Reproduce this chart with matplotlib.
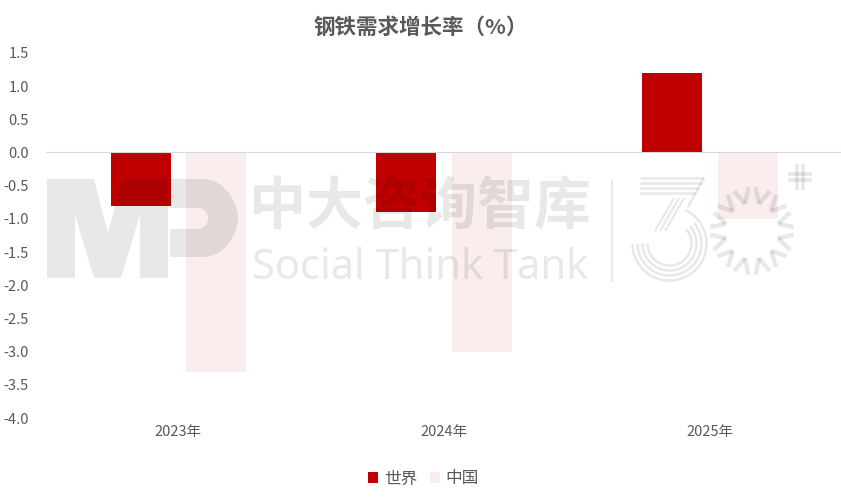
import numpy as np
import matplotlib
matplotlib.use('Agg')
import matplotlib.pyplot as plt
from matplotlib.path import Path
from matplotlib.patches import PathPatch

plt.rcParams['font.family'] = ['Noto Sans CJK SC', 'DejaVu Sans']

years = ['2023年', '2024年', '2025年']
world = [-0.8, -0.9, 1.2]
china = [-3.3, -3.0, -1.0]
yticks = [1.5, 1.0, 0.5, 0.0, -0.5, -1.0, -1.5, -2.0, -2.5, -3.0, -3.5, -4.0]

W, H = 841, 500
fig = plt.figure(figsize=(W / 100, H / 100), dpi=100)
ax = fig.add_axes([45.5 / W, 1 - 418 / H, 797 / W, 365.2 / H])

x = np.arange(len(years))
bw = 60 / 265.6
ax.bar(x - 37.5 / 265.6, world, bw, color='#C00000', label='世界')
ax.bar(x + 38 / 265.6, china, bw, color='#F9EDED', label='中国')

ax.set_xlim(-0.5, 2.5)
ax.set_ylim(-4.0, 1.5)
ax.set_yticks(yticks)
ax.set_yticklabels([f'{v:.1f}' for v in yticks], fontsize=10.5, color='#595959')
ax.set_xticks(x)
ax.set_xticklabels(years, fontsize=10.5, color='#595959')
ax.tick_params(axis='y', length=0, pad=12)
ax.tick_params(axis='x', length=0, pad=5)
for s in ['top', 'right', 'left', 'bottom']:
    ax.spines[s].set_visible(False)
ax.axhline(0, color='#D9D9D9', lw=0.8)

fig.text(421 / W, 1 - 27 / H, '钢铁需求增长率（%）', fontsize=15.5, fontweight='bold',
         color='#595959', ha='center', va='center')
fig.legend(loc='center', bbox_to_anchor=(423.5 / W, 1 - 479 / H), ncol=2, frameon=False,
           fontsize=12, labelcolor='#595959', handlelength=0.6, handleheight=0.6,
           handletextpad=0.35, columnspacing=0.75)


# 水印，全部用像素座標畫
def fx(px):
    return np.asarray(px, dtype=float) / W


def fy(py):
    return 1 - np.asarray(py, dtype=float) / H


wm = dict(color='black', alpha=0.09)


def wm_line(xs, ys, lw):
    fig.add_artist(plt.Line2D(fx(xs), fy(ys), lw=lw, solid_capstyle='butt', **wm))


def wm_shape(verts, codes):
    pts = [(fx(a), fy(b)) for a, b in verts]
    fig.add_artist(PathPatch(Path(pts, codes), transform=fig.transFigure, lw=0,
                             facecolor='black', alpha=0.09))


M, L, C, Z = Path.MOVETO, Path.LINETO, Path.CURVE4, Path.CLOSEPOLY
# M
m_pts = [(47, 179), (94, 179), (108, 233), (122, 179), (168, 179), (168, 278), (140, 278),
         (140, 215), (121, 278), (94, 278), (75, 215), (75, 278), (47, 278), (47, 179)]
wm_shape(m_pts, [M] + [L] * 12 + [Z])
# P
p_pts = [(170, 179), (203, 179), (225, 179), (238, 203), (238, 218), (238, 233), (225, 257),
         (203, 257), (170, 257), (170, 229), (197, 229), (206, 229), (208, 222), (208, 218),
         (208, 214), (206, 208), (197, 208), (170, 208), (170, 179)]
wm_shape(p_pts, [M, L, C, C, C, C, C, C, L, L, L, C, C, C, C, C, C, L, Z])

fig.text(420 / W, 1 - 207 / H, '中大咨询智库', fontsize=41, fontweight='bold', color='black', alpha=0.09,
         ha='center', va='center')
fig.text(420.5 / W, 1 - 279 / H, 'Social Think Tank', fontsize=30, color='black', alpha=0.09,
         ha='center', va='baseline', family=['Noto Sans'], fontweight='light')
wm_line([612, 612], [179, 282], 1.5)

# 30 字樣：上方橫條、斜條和同心弧
for i in range(4):
    wm_line([640, 704 - i * 3], [178 + i * 5, 178 + i * 5], 1.8)
for i in range(3):
    wm_line([674 + i * 5, 655 + i * 5], [198, 231], 1.6)
wm_line([704, 688], [178, 207], 1.8)
for r in [37, 32, 27, 22]:
    t = np.radians(np.linspace(180, 426 if r == 37 else 400, 80))
    wm_line(669.5 + r * np.cos(t), 243.5 - r * np.sin(t), 1.8)

# 太陽的鋸齒光芒
for a in np.arange(15, 375, 30):
    for d in (-10, 10):
        t = np.radians([a, a + d])
        wm_line([752 + 27 * np.cos(t[0]), 752 + 42 * np.cos(t[1])],
                [231 - 28 * np.sin(t[0]), 231 - 44 * np.sin(t[1])], 3.2)

# 右上角的加號
for k in (174, 180):
    wm_line([788, 812], [k, k], 2.6)
for k in (797, 803):
    wm_line([k, k], [164, 190], 2.6)

fig.savefig('out.png', dpi=100)
